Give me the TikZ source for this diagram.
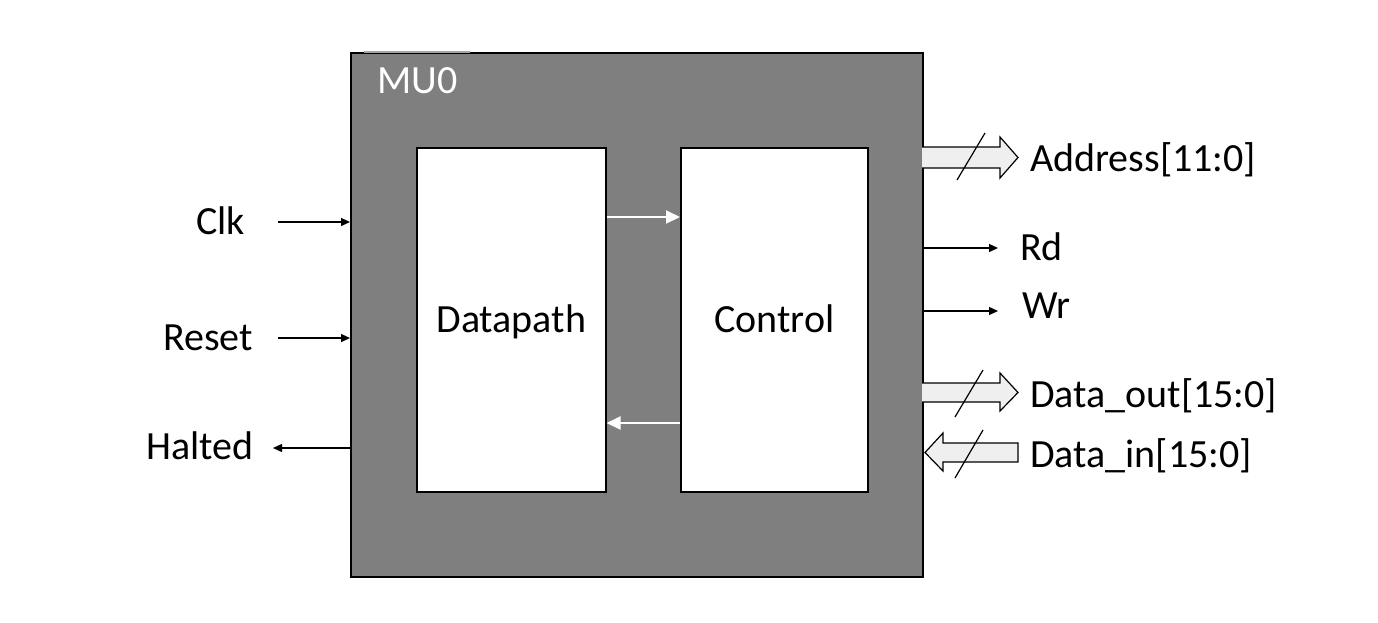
\documentclass[tikz,border=0pt]{standalone}
\usepackage{fontspec}
\setmainfont{Carlito}
\usetikzlibrary{arrows.meta}
\definecolor{mugray}{HTML}{7F7F7F}
\definecolor{busfill}{HTML}{EFEFEF}
\begin{document}
\begin{tikzpicture}[x=1pt,y=-1pt,
  lbl/.style={font=\fontsize{40}{48}\selectfont, inner sep=0pt, anchor=base west},
  blk/.style={draw=black, line width=1.5pt, inner sep=0pt},
  inner/.style={blk, fill=white, minimum height=344pt, anchor=north west,
      font=\fontsize{40}{48}\selectfont, text height=30pt, text depth=4pt},
  sig/.style={draw=black, line width=1.3pt, -{Triangle[length=9pt,width=8pt]}},
  wsig/.style={draw=white, line width=2pt, -{Triangle[length=14pt,width=13pt]}},
  bus/.style={draw=black, line width=1.2pt, fill=busfill, line join=miter},
  slash/.style={draw=black, line width=1.2pt},
]
\useasboundingbox (0,0) rectangle (1378,622);
% main block
\node[blk, fill=mugray, minimum width=572pt, minimum height=524pt, anchor=north west] (mu0) at (350,52) {};
\draw[line width=1.5pt, draw=gray!70] (364,52) -- (470,52);
\node[lbl, text=white] (mu0lbl) at (377,93) {MU0};
% inner blocks
\node[inner, minimum width=189pt] (dp) at (416,147) {Datapath};
\node[inner, minimum width=187pt] (ctl) at (680,147) {Control};
\coordinate (r1) at (0,217);
\coordinate (r2) at (0,423);
\draw[wsig] (dp.east |- r1) -- (ctl.west |- r1);
\draw[wsig] (ctl.west |- r2) -- (dp.east |- r2);
% left signals
\node[lbl] (clk) at (196,234) {Clk};
\node[lbl] (reset) at (163,350) {Reset};
\node[lbl] (halted) at (146,459) {Halted};
\coordinate (clkA) at (278,222);
\coordinate (rstA) at (278,338);
\coordinate (hltA) at (273,448);
\draw[sig] (clkA) -- (mu0.west |- clkA);
\draw[sig] (rstA) -- (mu0.west |- rstA);
\draw[sig] (mu0.west |- hltA) -- (hltA);
% right signals
\node[lbl] (addr) at (1030,171) {Address[11:0]};
\node[lbl] (rd) at (1020,260) {Rd};
\node[lbl] (wr) at (1022,318) {Wr};
\node[lbl] (dout) at (1030,407) {Data\_out[15:0]};
\node[lbl] (din) at (1030,467) {Data\_in[15:0]};
\coordinate (rdA) at (998,248);
\coordinate (wrA) at (998,311);
\draw[sig] (mu0.east |- rdA) -- (rdA);
\draw[sig] (mu0.east |- wrA) -- (wrA);
% bus arrows
\draw[bus] (922,147) -- (1000,147) -- (1000,137) -- (1018,157.5) -- (1000,178) -- (1000,168) -- (922,168);
\draw[slash] (957,180) -- (985,133);
\draw[bus] (922,383) -- (1000,383) -- (1000,373) -- (1018,392.5) -- (1000,411) -- (1000,402) -- (922,402);
\draw[slash] (955,417) -- (983,370);
\draw[bus] (1018,443) -- (943,443) -- (943,433) -- (925,452.5) -- (943,471) -- (943,462) -- (1018,462) -- cycle;
\draw[slash] (955,478) -- (983,430);
\end{tikzpicture}
\end{document}
